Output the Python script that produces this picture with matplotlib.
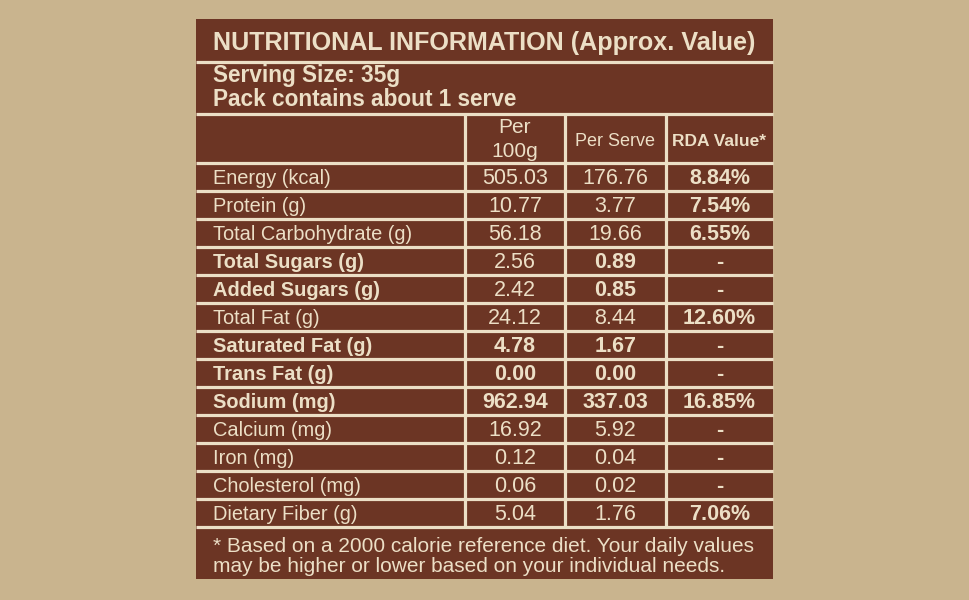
import matplotlib
matplotlib.use('Agg')
import matplotlib.pyplot as plt
from matplotlib.patches import Rectangle

# table content
nutrients = ['Energy (kcal)', 'Protein (g)', 'Total Carbohydrate (g)', 'Total Sugars (g)',
             'Added Sugars (g)', 'Total Fat (g)', 'Saturated Fat (g)', 'Trans Fat (g)',
             'Sodium (mg)', 'Calcium (mg)', 'Iron (mg)', 'Cholesterol (mg)', 'Dietary Fiber (g)']
per_100g = ['505.03', '10.77', '56.18', '2.56', '2.42', '24.12', '4.78', '0.00',
            '962.94', '16.92', '0.12', '0.06', '5.04']
per_serve = ['176.76', '3.77', '19.66', '0.89', '0.85', '8.44', '1.67', '0.00',
             '337.03', '5.92', '0.04', '0.02', '1.76']
rda_value = ['8.84%', '7.54%', '6.55%', '-', '-', '12.60%', '-', '-',
             '16.85%', '-', '-', '-', '7.06%']
# which cells are printed in bold
bold_label = [0, 0, 0, 1, 1, 0, 1, 1, 1, 0, 0, 0, 0]
bold_100g = [0, 0, 0, 0, 0, 0, 1, 1, 1, 0, 0, 0, 0]
bold_serve = [0, 0, 0, 1, 1, 0, 1, 1, 1, 0, 0, 0, 0]

title = 'NUTRITIONAL INFORMATION (Approx. Value)'
serving = ['Serving Size: 35g', 'Pack contains about 1 serve']
headers = [['Per', '100g'], 'Per Serve', 'RDA Value*']
footnote = ['* Based on a 2000 calorie reference diet. Your daily values',
            'may be higher or lower based on your individual needs.']

BG = '#c9b48e'
BROWN = '#6c3524'
CREAM = '#ecdfc6'
SANS = ['Liberation Sans', 'DejaVu Sans']


def wt(flag):
    return 'bold' if flag else 'normal'


fig = plt.figure(figsize=(9.7, 6), dpi=100)
fig.patch.set_facecolor(BG)
ax = fig.add_axes([0, 0, 1, 1])
ax.set_xlim(0, 970)
ax.set_ylim(600, 0)
ax.axis('off')

left, right, top, bottom = 196, 773, 19, 579
ax.add_patch(Rectangle((left, top), right - left, bottom - top, color=BROWN, lw=0))

row_top, row_h = 163, 28
n = len(nutrients)
table_bottom = row_top + n * row_h
col_edges = [465, 565, 666]
col_mid = [(col_edges[0] + col_edges[1]) / 2, (col_edges[1] + col_edges[2]) / 2,
           (col_edges[2] + right) / 2]

lw = 2.3
ax.hlines([62, 114] + [row_top + i * row_h for i in range(n + 1)], left, right,
          color=CREAM, lw=lw)
ax.vlines(col_edges, 114, table_bottom, color=CREAM, lw=lw)

ax.text(213, 50, title, family=SANS, weight='bold', fontsize=18.1,
        color=CREAM, va='baseline', ha='left')
ax.text(213, 82, serving[0], family=SANS, weight='bold', fontsize=16.3,
        color=CREAM, va='baseline')
ax.text(213, 106, serving[1], family=SANS, weight='bold', fontsize=16.3,
        color=CREAM, va='baseline')

ax.text(col_mid[0], 133, headers[0][0], family=SANS, fontsize=15, color=CREAM,
        ha='center', va='baseline')
ax.text(col_mid[0], 157, headers[0][1], family=SANS, fontsize=15, color=CREAM,
        ha='center', va='baseline')
ax.text(col_mid[1], 146, headers[1], family=SANS, fontsize=13, color=CREAM,
        ha='center', va='baseline')
ax.text(col_mid[2], 146, headers[2], family=SANS, weight='bold', fontsize=12.5,
        color=CREAM, ha='center', va='baseline')

for i in range(n):
    base = row_top + i * row_h + 21.5
    ax.text(213, base, nutrients[i], family=SANS, fontsize=14.4, color=CREAM,
            va='baseline', weight=wt(bold_label[i]))
    ax.text(col_mid[0], base, per_100g[i], family=SANS, fontsize=15.5, color=CREAM,
            ha='center', va='baseline', weight=wt(bold_100g[i]))
    ax.text(col_mid[1], base, per_serve[i], family=SANS, fontsize=15.5, color=CREAM,
            ha='center', va='baseline', weight=wt(bold_serve[i]))
    ax.text(col_mid[2], base, rda_value[i], family=SANS, fontsize=15.5, color=CREAM,
            ha='center', va='baseline', weight='bold')

ax.text(213, 551.5, footnote[0], family=SANS, fontsize=15, color=CREAM, va='baseline')
ax.text(213, 571.5, footnote[1], family=SANS, fontsize=15, color=CREAM, va='baseline')

fig.savefig('out.png', dpi=100, facecolor=BG)
